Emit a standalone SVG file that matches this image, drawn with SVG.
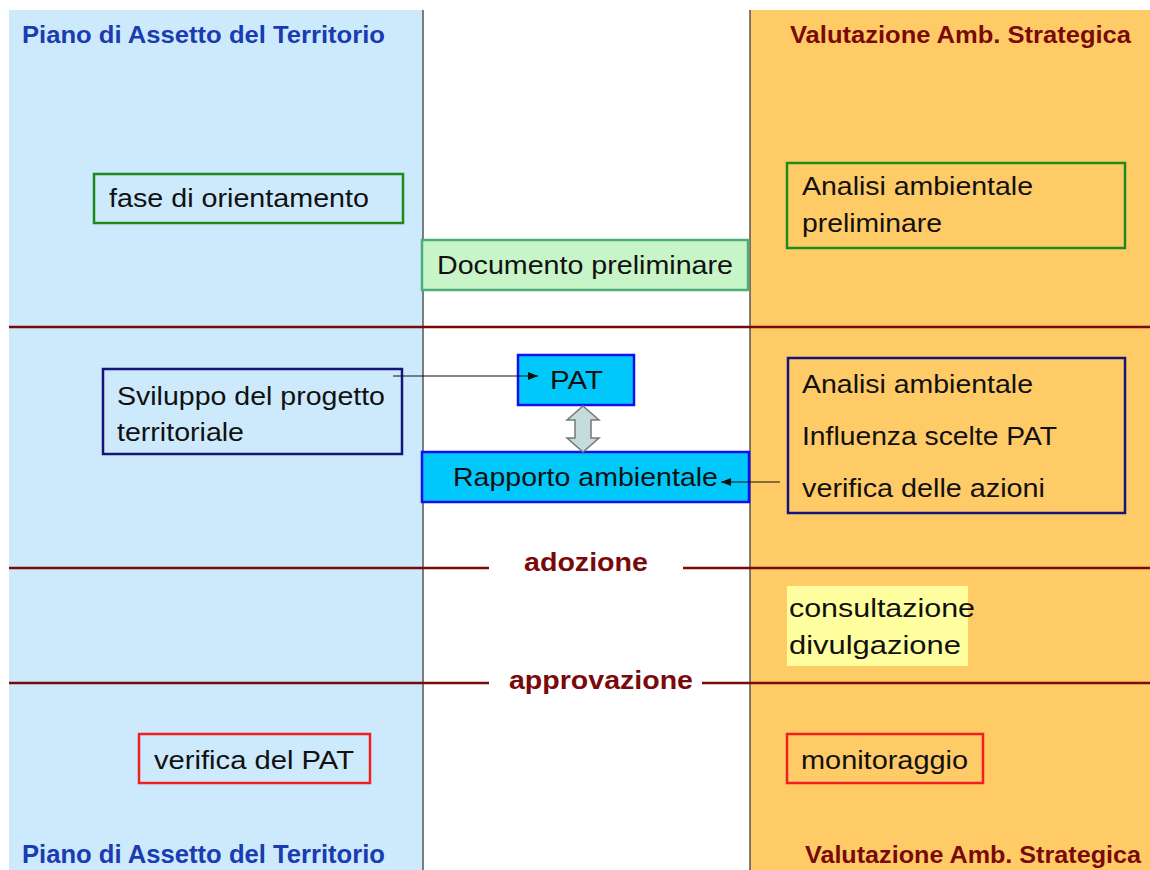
<svg xmlns="http://www.w3.org/2000/svg" width="1150" height="870" viewBox="0 0 1150 870">
<defs>
<style>
.t{font-family:"Liberation Sans",Arial,sans-serif;font-size:26px;fill:#111}
.hb{font-family:"Liberation Sans",Arial,sans-serif;font-weight:bold;font-size:23px;fill:#1a3cb0}
.hr{font-family:"Liberation Sans",Arial,sans-serif;font-weight:bold;font-size:23px;fill:#7a0a0a}
.ms{font-family:"Liberation Sans",Arial,sans-serif;font-weight:bold;font-size:25px;fill:#7a0a0a}
.sep{stroke:#7a0a0a;stroke-width:2.5;fill:none}
.vl{stroke:#555;stroke-width:1.5}
.g{fill:none;stroke:#1e8a1e;stroke-width:2.5}
.n{fill:none;stroke:#14147a;stroke-width:2.5}
.r{fill:none;stroke:#ee2020;stroke-width:2.5}
.c{fill:#00c8fa;stroke:#1010ee;stroke-width:2.5}
.ln{stroke:#111;stroke-width:1.2;fill:none}
</style>
<marker id="ah" viewBox="0 0 10 10" refX="10" refY="5" markerWidth="10" markerHeight="10" markerUnits="userSpaceOnUse" orient="auto">
<path d="M0,1 L10,5 L0,9 Z" fill="#111"/>
</marker>
</defs>
<rect width="1150" height="870" fill="#fff"/>
<g id="panels">
<rect x="9" y="10" width="414" height="860" fill="#cdeafc"/>
<rect x="750" y="10" width="400" height="860" fill="#ffcb66"/>
<line class="vl" x1="423" y1="10" x2="423" y2="870"/>
<line class="vl" x1="750" y1="10" x2="750" y2="870"/>
</g>
<g id="separators">
<line class="sep" x1="9" y1="327" x2="1150" y2="327"/>
<line class="sep" x1="9" y1="568" x2="489" y2="568"/>
<line class="sep" x1="683" y1="568" x2="1150" y2="568"/>
<line class="sep" x1="9" y1="683" x2="489" y2="683"/>
<line class="sep" x1="702" y1="683" x2="1150" y2="683"/>
<text class="ms" x="524" y="571" textLength="124" lengthAdjust="spacingAndGlyphs">adozione</text>
<text class="ms" x="509" y="689" textLength="184" lengthAdjust="spacingAndGlyphs">approvazione</text>
</g>
<g id="titles">
<text class="hb" x="22" y="43" textLength="363" lengthAdjust="spacingAndGlyphs">Piano di Assetto del Territorio</text>
<text class="hr" x="790" y="43" textLength="341" lengthAdjust="spacingAndGlyphs">Valutazione Amb. Strategica</text>
<text class="hb" x="22" y="863" style="font-size:26px" textLength="363" lengthAdjust="spacingAndGlyphs">Piano di Assetto del Territorio</text>
<text class="hr" x="805" y="863" style="font-size:23px" textLength="336" lengthAdjust="spacingAndGlyphs">Valutazione Amb. Strategica</text>
</g>
<g id="fase">
<rect class="g" x="94" y="174" width="309" height="49"/>
<text class="t" x="109" y="207" textLength="260" lengthAdjust="spacingAndGlyphs">fase di orientamento</text>
</g>
<g id="analisi-prel">
<rect class="g" x="787" y="163" width="338" height="85"/>
<text class="t" x="802" y="195" textLength="231" lengthAdjust="spacingAndGlyphs">Analisi ambientale</text>
<text class="t" x="802" y="232" textLength="140" lengthAdjust="spacingAndGlyphs">preliminare</text>
</g>
<g id="documento">
<rect x="422" y="240" width="326" height="50" fill="#c8f5c8" stroke="#4fae78" stroke-width="2.5"/>
<text class="t" x="437" y="274" textLength="296" lengthAdjust="spacingAndGlyphs">Documento preliminare</text>
</g>
<g id="sviluppo">
<rect class="n" x="103" y="369" width="299" height="85"/>
<text class="t" x="117" y="405" textLength="268" lengthAdjust="spacingAndGlyphs">Sviluppo del progetto</text>
<text class="t" x="117" y="441" textLength="127" lengthAdjust="spacingAndGlyphs">territoriale</text>
</g>
<g id="pat">
<rect class="c" x="518" y="355" width="116" height="50"/>
<text class="t" x="550" y="389" textLength="53" lengthAdjust="spacingAndGlyphs">PAT</text>
</g>
<g id="rapporto">
<rect class="c" x="422" y="452" width="327" height="50"/>
<text class="t" x="453" y="486" textLength="265" lengthAdjust="spacingAndGlyphs">Rapporto ambientale</text>
</g>
<g id="analisi">
<rect class="n" x="788" y="358" width="337" height="155"/>
<text class="t" x="802" y="393" textLength="231" lengthAdjust="spacingAndGlyphs">Analisi ambientale</text>
<text class="t" x="802" y="445" textLength="255" lengthAdjust="spacingAndGlyphs">Influenza scelte PAT</text>
<text class="t" x="802" y="497" textLength="243" lengthAdjust="spacingAndGlyphs">verifica delle azioni</text>
</g>
<g id="consultazione">
<rect x="787" y="586" width="181" height="80" fill="#ffffa0"/>
<text class="t" x="789" y="617" textLength="186" lengthAdjust="spacingAndGlyphs">consultazione</text>
<text class="t" x="789" y="654" textLength="172" lengthAdjust="spacingAndGlyphs">divulgazione</text>
</g>
<g id="verifica">
<rect class="r" x="139" y="734" width="231" height="49"/>
<text class="t" x="154" y="769" textLength="200" lengthAdjust="spacingAndGlyphs">verifica del PAT</text>
</g>
<g id="monitoraggio">
<rect class="r" x="787" y="734" width="196" height="49"/>
<text class="t" x="801" y="769" textLength="167" lengthAdjust="spacingAndGlyphs">monitoraggio</text>
</g>
<g id="connectors">
<line class="ln" x1="393" y1="376" x2="538" y2="376" marker-end="url(#ah)"/>
<line class="ln" x1="780" y1="482" x2="721" y2="482" marker-end="url(#ah)"/>
<path d="M583,406 L599,420 L591,420 L591,438 L599,438 L583,452 L567,438 L575,438 L575,420 L567,420 Z" fill="#c4dcdc" stroke="#777" stroke-width="1.5"/>
</g>
</svg>
